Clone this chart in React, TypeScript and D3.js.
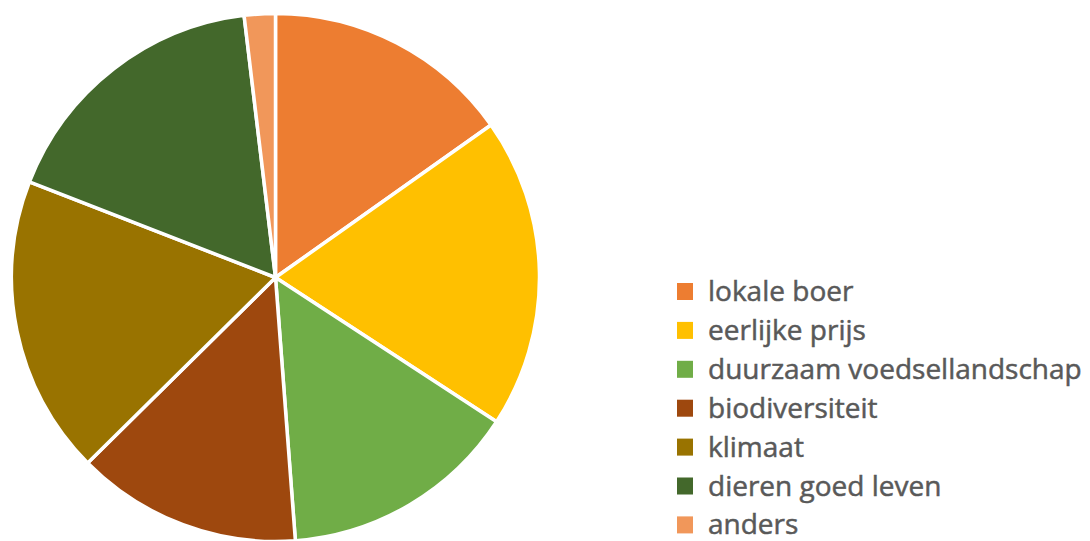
import { arc, pie, PieArcDatum } from 'd3'

const categories = [
  'lokale boer',
  'eerlijke prijs',
  'duurzaam voedsellandschap',
  'biodiversiteit',
  'klimaat',
  'dieren goed leven',
  'anders',
]
const shares = [15.2, 19.0, 14.6, 13.8, 18.3, 17.2, 1.9]
const colors = ['#ED7D31', '#FFC000', '#70AD47', '#9E480E', '#997300', '#43682B', '#F1975A']

interface Slice {
  label: string
  value: number
  color: string
}

const slices: Slice[] = categories.map((label, ix) => ({ label, value: shares[ix], color: colors[ix] }))

const W = 1090
const H = 541
const cx = 275.5
const cy = 277.5
const radius = 264

export default function App() {
  const arcs = pie<Slice>().sort(null).value(d => d.value)(slices)
  const arcGen = arc<PieArcDatum<Slice>>().innerRadius(0).outerRadius(radius)

  const legendX = 677
  const legendY = 291.5
  const rowGap = 38.9

  return (
    <svg
      width={W}
      height={H}
      style={{ position: 'absolute', left: 0, top: 0, background: '#fff' }}
    >
      <g transform={`translate(${cx},${cy})`}>
        {arcs.map(a => (
          <path
            key={a.data.label}
            d={arcGen(a) ?? ''}
            fill={a.data.color}
            stroke='#fff'
            strokeWidth={3.5}
            strokeLinejoin='round'
          />
        ))}
      </g>
      <g
        fontFamily='"Open Sans", sans-serif'
        fontSize={28}
        fill='#595959'
        stroke='#595959'
        strokeWidth={0.5}
      >
        {slices.map((s, ix) => (
          <g key={s.label} transform={`translate(${legendX},${legendY + ix * rowGap})`}>
            <rect x={0} y={-8.5} width={16} height={17} fill={s.color} stroke='none' />
            <text x={31} y={9.5}>{s.label}</text>
          </g>
        ))}
      </g>
    </svg>
  )
}
